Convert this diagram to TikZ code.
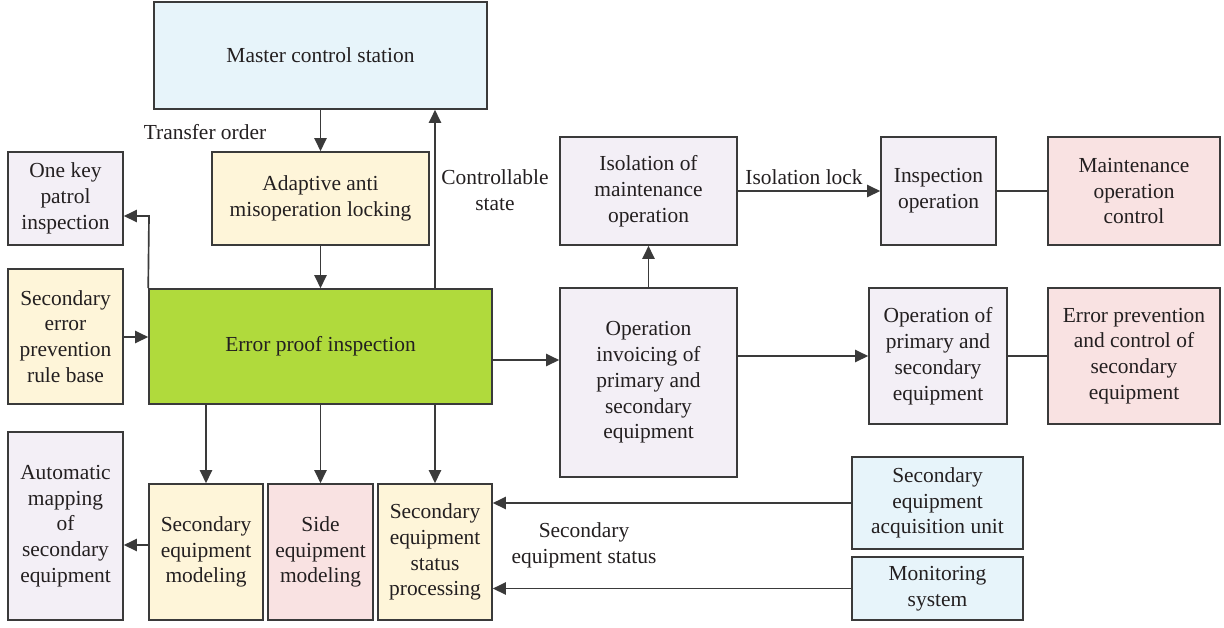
\documentclass[tikz,border=0pt]{standalone}
\usepackage{fontspec}
\setmainfont{Liberation Serif}
\usetikzlibrary{arrows.meta}

\definecolor{ink}{HTML}{231F20}
\definecolor{edge}{HTML}{3A3A3A}
\definecolor{skyfill}{HTML}{E7F4FA}
\definecolor{creamfill}{HTML}{FEF5D9}
\definecolor{lilacfill}{HTML}{F3EFF6}
\definecolor{rosefill}{HTML}{F9E2E2}
\definecolor{limefill}{HTML}{B0DA3C}

% a box spanning two corner points (in 0.02cm units), with centred text
\newcommand\flowbox[7]{%
  \pgfmathsetmacro\boxw{(#4-#2)*0.02}%
  \pgfmathsetmacro\boxh{(#5-#3)*0.02}%
  \node[box, fill=#6, minimum width=\boxw cm, minimum height=\boxh cm]
    (#1) at ({(#2+#4)/2},{(#3+#5)/2}) {#7};}

\begin{document}
\begin{tikzpicture}[x=0.02cm, y=-0.02cm,
  font=\fontsize{12.2pt}{14.7pt}\selectfont, text=ink,
  box/.style={draw=edge, line width=0.9pt, inner sep=0pt, align=center},
  arr/.style={draw=edge, line width=0.95pt, -{Triangle[length=7.5pt,width=7pt]}},
  link/.style={draw=edge, line width=0.95pt},
  lbl/.style={align=center, inner sep=0pt}]
\useasboundingbox (0,0) rectangle (1224,627);

% ---- boxes ----
\flowbox{master}{154}{2}{487}{109}{skyfill}{Master control station}
\flowbox{adapt}{212}{152}{429}{245}{creamfill}{Adaptive anti\\misoperation locking}
\flowbox{onekey}{8}{152}{123}{245}{lilacfill}{One key\\patrol\\inspection}
\flowbox{rule}{8}{269}{123}{404}{creamfill}{Secondary\\error\\prevention\\rule base}
\flowbox{ep}{149}{289}{492}{404}{limefill}{Error proof inspection}
\flowbox{automap}{8}{432}{123}{620}{lilacfill}{Automatic\\mapping\\of\\secondary\\equipment}
\flowbox{secmod}{149}{484}{263}{620}{creamfill}{Secondary\\equipment\\modeling}
\flowbox{sidemod}{268}{484}{373}{620}{rosefill}{Side\\equipment\\modeling}
\flowbox{status}{378}{484}{492}{620}{creamfill}{Secondary\\equipment\\status\\processing}
\flowbox{isol}{560}{137}{737}{245}{lilacfill}{Isolation of\\maintenance\\operation}
\flowbox{invoice}{560}{288}{737}{477}{lilacfill}{Operation\\invoicing of\\primary and\\secondary\\equipment}
\flowbox{insp}{881}{137}{996}{245}{lilacfill}{Inspection\\operation}
\flowbox{mctrl}{1048}{137}{1220}{245}{rosefill}{Maintenance\\operation\\control}
\flowbox{opprim}{869}{288}{1007}{424}{lilacfill}{Operation of\\primary and\\secondary\\equipment}
\flowbox{epctrl}{1048}{288}{1220}{424}{rosefill}{Error prevention\\and control of\\secondary\\equipment}
\flowbox{acq}{852}{457}{1023}{549}{skyfill}{Secondary\\equipment\\acquisition unit}
\flowbox{mon}{852}{557}{1023}{620}{skyfill}{Monitoring\\system}

% ---- helper coordinates for connector routing ----
\coordinate (upx) at (435,0);
\coordinate (bend) at (149,216);
\coordinate (ruley) at (0,337);
\coordinate (mapy) at (0,545);
\coordinate (invy) at (0,360);

% ---- connectors ----
\draw[arr] (master.south -| adapt.north) -- (adapt.north);
\draw[arr] (adapt.south) -- (adapt.south |- ep.north);
\draw[arr] (ep.north -| upx) -- (master.south -| upx);
\draw[arr] (ep.north west) -- (bend) -- (bend -| onekey.east);
\draw[arr] (rule.east |- ruley) -- (ep.west |- ruley);
\draw[arr] (ep.south -| secmod.north) -- (secmod.north);
\draw[arr] (ep.south -| sidemod.north) -- (sidemod.north);
\draw[arr] (ep.south -| status.north) -- (status.north);
\draw[arr] (secmod.west |- mapy) -- (automap.east |- mapy);
\draw[arr] (ep.east |- invy) -- (invoice.west |- invy);
\draw[arr] (invoice.north) -- (isol.south);
\draw[arr] (isol.east) -- (insp.west |- isol.east);
\draw[link] (insp.east) -- (mctrl.west |- insp.east);
\draw[arr] (invoice.east |- opprim.west) -- (opprim.west);
\draw[link] (opprim.east) -- (epctrl.west |- opprim.east);
\draw[arr] (acq.west) -- (acq.west -| status.east);
\draw[arr] (mon.west) -- (mon.west -| status.east);

% ---- connector labels ----
\node[lbl] (ltransfer) at (205,132) {Transfer order};
\node[lbl] (lctrl) at (495,190) {Controllable\\state};
\node[lbl] (liso) at (804,177) {Isolation lock};
\node[lbl] (lstat) at (584,545) {Secondary\\equipment status};
\end{tikzpicture}
\end{document}
